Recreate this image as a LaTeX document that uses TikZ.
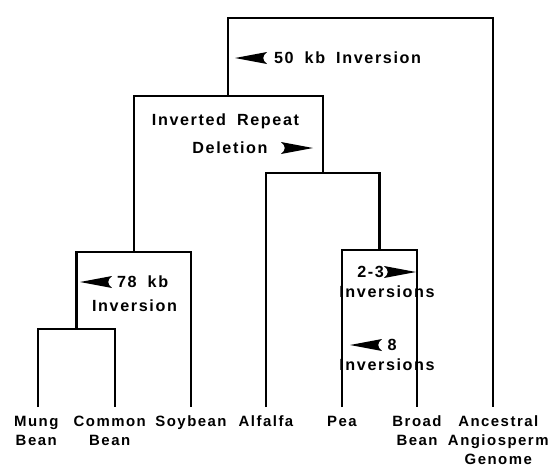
\documentclass[tikz,border=0pt]{standalone}
\usepackage{fontspec}
\setmainfont{Liberation Sans}[LetterSpace=10,WordSpace=1.8]
\usetikzlibrary{positioning}

\begin{document}
\begin{tikzpicture}[x=0.02cm, y=-0.02cm, line width=1.3pt, node distance=4.5pt]

    \tikzset{
        leaf/.style={
            inner sep=0pt,
            align=center,
            font=\bfseries\fontsize{8.5}{10.7}\selectfont
        },
        event/.style={
            inner sep=0pt,
            text height=6.6pt,
            text depth=0pt,
            font=\bfseries\fontsize{9.2}{11}\selectfont
        },
        headleft/.pic={
            \fill (0,0) -- (32,-6) .. controls (27,-2) and (27,2) .. (32,6) -- cycle;
        },
        headright/.pic={
            \fill (0,0) -- (-32,-6) .. controls (-27,-2) and (-27,2) .. (-32,6) -- cycle;
        }
    }
    \useasboundingbox (0,0) rectangle (555,468);

    % leaf ends
    \coordinate (mung) at (38,407);
    \coordinate (common) at (115,407);
    \coordinate (soybean) at (191,407);
    \coordinate (alfalfa) at (266,407);
    \coordinate (pea) at (342,407);
    \coordinate (broad) at (417,407);
    \coordinate (ancestral) at (493,407);

    \node[leaf, below=of mung, xshift=-1pt] (mungtxt) {Mung\\Bean};
    \node[leaf, below=of common, xshift=-3pt] (commontxt) {Common\\Bean};
    \node[leaf, below=of soybean] (soybeantxt) {Soybean};
    \node[leaf, below=of alfalfa] (alfalfatxt) {Alfalfa};
    \node[leaf, below=of pea] (peatxt) {Pea};
    \node[leaf, below=of broad] (broadtxt) {Broad\\Bean};
    \node[leaf, below=of ancestral, xshift=3pt] (ancestraltxt) {Ancestral\\Angiosperm\\Genome};

    % junctions
    \coordinate (mungcommon) at (76.5,329);
    \coordinate (beans) at (133.75,252);
    \coordinate (peabroad) at (379.5,250);
    \coordinate (alfalfapea) at (322.75,173);
    \coordinate (legumes) at (228.25,96);
    \coordinate (root) at (360.6,18);

    \draw (mung) |- (mungcommon) -| (common);
    \draw (mungcommon) |- (beans) -| (soybean);
    \draw (pea) |- (peabroad) -| (broad);
    \draw (alfalfa) |- (alfalfapea) -| (peabroad);
    \draw (beans) |- (legumes) -| (alfalfapea);
    \draw (legumes) |- (root) -| (ancestral);

    % rearrangements
    \node[event, anchor=west] (fiftykb) at (273,58) {50 kb Inversion};
    \pic at (235,58) {headleft};

    \node[event] (irrepeat) at (225.5,120) {Inverted Repeat};
    \node[event] (irdeletion) at (230,148) {Deletion};
    \pic at (313,148) {headright};

    \node[event, anchor=west] (seventyeight) at (116,282) {78 kb};
    \pic at (80,282) {headleft};
    \node[event] (seventyeightinv) at (134.5,306) {Inversion};

    \node[event, anchor=east] (twothree) at (385,272) {2-3};
    \pic at (416,272) {headright};
    \node[event] (twothreeinv) at (387,292) {Inversions};

    \node[event] (eight) at (392,345) {8};
    \pic at (350,345) {headleft};
    \node[event] (eightinv) at (387,365) {Inversions};

\end{tikzpicture}
\end{document}
